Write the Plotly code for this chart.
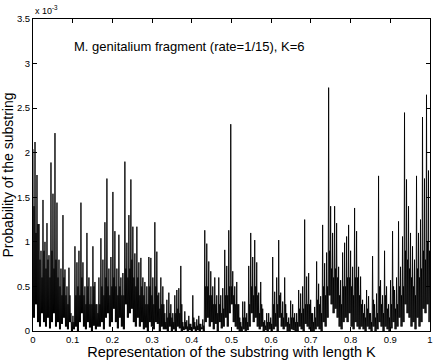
import numpy as np
import plotly.graph_objects as go

# Probability values (units of 1e-3), read per ~2px bin: local peak, local dense level, local trough
PEAKS_E3 = [
    2.04, 2.12, 1.75, 1.20, 0.90, 1.47, 1.00, 1.21, 0.85, 1.89, 1.54,
    2.22, 1.44, 0.80, 0.70, 1.30, 0.69, 0.50, 0.71, 0.20, 0.17, 0.95,
    0.77, 0.90, 1.44, 0.77, 0.50, 1.10, 0.60, 0.50, 0.95, 0.55, 0.30,
    0.60, 1.04, 0.80, 1.22, 1.71, 0.70, 0.83, 1.56, 1.12, 0.70, 1.08,
    0.60, 0.65, 1.90, 0.99, 1.30, 1.70, 1.17, 0.87, 1.17, 0.77, 0.82,
    0.60, 0.55, 0.50, 0.83, 0.82, 0.60, 1.22, 0.89, 0.43, 0.60, 0.50,
    0.20, 0.35, 0.43, 0.30, 0.20, 0.40, 0.46, 0.48, 0.73, 0.10, 0.22,
    0.12, 0.17, 0.08, 0.40, 0.10, 0.13, 0.17, 0.08, 0.13, 1.13, 0.98,
    0.78, 0.67, 0.50, 0.60, 0.40, 0.60, 0.40, 0.48, 0.91, 0.73, 1.13,
    2.32, 0.67, 0.50, 0.55, 0.30, 0.10, 0.33, 0.33, 0.20, 0.73, 1.10,
    0.83, 1.02, 0.77, 0.43, 0.55, 0.25, 0.12, 0.20, 0.20, 0.15, 0.83,
    0.44, 0.60, 1.02, 0.43, 0.33, 0.60, 0.20, 0.15, 0.34, 0.30, 0.20,
    0.20, 0.46, 0.42, 0.50, 1.25, 0.61, 0.65, 0.35, 0.20, 0.27, 0.78,
    0.53, 0.39, 1.19, 0.76, 0.88, 2.73, 1.40, 1.10, 1.40, 1.21, 0.72,
    0.57, 0.88, 0.99, 1.06, 1.19, 0.90, 0.72, 1.38, 1.12, 0.72, 0.61,
    0.35, 0.30, 0.46, 0.39, 0.20, 0.84, 0.30, 0.42, 1.74, 0.57, 0.40,
    0.90, 0.50, 0.30, 0.57, 1.12, 0.46, 0.60, 1.23, 0.72, 1.06, 2.45,
    1.70, 1.40, 1.10, 0.95, 0.80, 1.74, 1.10, 1.25, 2.40, 1.71, 2.65, 1.80,
]

MIDS_E3 = [
    1.40, 1.10, 1.20, 0.80, 0.60, 0.90, 0.70, 0.80, 0.60, 0.90, 0.70,
    0.80, 0.60, 0.50, 0.40, 0.60, 0.40, 0.30, 0.40, 0.10, 0.10, 0.40,
    0.50, 0.40, 0.60, 0.40, 0.30, 0.50, 0.30, 0.30, 0.50, 0.30, 0.20,
    0.30, 0.50, 0.40, 0.60, 0.50, 0.40, 0.50, 0.60, 0.50, 0.40, 0.50,
    0.40, 0.40, 0.70, 0.60, 0.70, 0.80, 0.60, 0.50, 0.60, 0.40, 0.50,
    0.40, 0.30, 0.30, 0.50, 0.40, 0.30, 0.50, 0.40, 0.25, 0.30, 0.30,
    0.10, 0.15, 0.20, 0.15, 0.10, 0.20, 0.25, 0.20, 0.30, 0.05, 0.10,
    0.05, 0.08, 0.04, 0.15, 0.05, 0.06, 0.08, 0.04, 0.06, 0.50, 0.50,
    0.40, 0.40, 0.30, 0.30, 0.20, 0.30, 0.20, 0.25, 0.40, 0.40, 0.50,
    0.50, 0.40, 0.30, 0.30, 0.15, 0.05, 0.15, 0.15, 0.10, 0.30, 0.50,
    0.40, 0.50, 0.40, 0.20, 0.30, 0.10, 0.06, 0.10, 0.10, 0.08, 0.30,
    0.20, 0.30, 0.40, 0.20, 0.15, 0.30, 0.10, 0.08, 0.15, 0.15, 0.10,
    0.10, 0.25, 0.20, 0.25, 0.30, 0.30, 0.30, 0.20, 0.10, 0.15, 0.35,
    0.30, 0.20, 0.50, 0.40, 0.50, 0.90, 0.70, 0.60, 0.70, 0.60, 0.40,
    0.30, 0.50, 0.50, 0.60, 0.60, 0.50, 0.40, 0.60, 0.60, 0.40, 0.30,
    0.20, 0.15, 0.25, 0.20, 0.10, 0.35, 0.15, 0.20, 0.50, 0.30, 0.20,
    0.40, 0.25, 0.15, 0.30, 0.50, 0.25, 0.30, 0.50, 0.40, 0.50, 0.90,
    0.80, 0.70, 0.60, 0.50, 0.40, 0.70, 0.60, 0.70, 0.90, 0.80, 1.00, 0.90,
]

TROUGHS_E3 = [
    0.15, 0.30, 0.10, 0.05, 0.20, 0.10, 0.05, 0.15, 0.03, 0.10, 0.20,
    0.05, 0.10, 0.02, 0.08, 0.15, 0.05, 0.02, 0.10, 0.00, 0.02, 0.05,
    0.00, 0.10, 0.20, 0.05, 0.02, 0.10, 0.04, 0.00, 0.06, 0.02, 0.05,
    0.05, 0.10, 0.02, 0.15, 0.20, 0.05, 0.10, 0.25, 0.10, 0.03, 0.15,
    0.05, 0.02, 0.30, 0.15, 0.20, 0.25, 0.10, 0.05, 0.15, 0.05, 0.10,
    0.02, 0.04, 0.00, 0.10, 0.05, 0.02, 0.10, 0.08, 0.00, 0.05, 0.02,
    0.02, 0.00, 0.05, 0.00, 0.02, 0.00, 0.05, 0.03, 0.00, 0.01, 0.02,
    0.00, 0.01, 0.00, 0.02, 0.00, 0.01, 0.00, 0.02, 0.00, 0.10, 0.15,
    0.05, 0.10, 0.02, 0.08, 0.00, 0.10, 0.03, 0.05, 0.15, 0.05, 0.20,
    0.30, 0.10, 0.05, 0.02, 0.00, 0.00, 0.02, 0.00, 0.01, 0.05, 0.20,
    0.10, 0.15, 0.05, 0.02, 0.05, 0.00, 0.01, 0.00, 0.02, 0.00, 0.02,
    0.05, 0.00, 0.15, 0.05, 0.02, 0.05, 0.00, 0.00, 0.02, 0.01, 0.00,
    0.00, 0.05, 0.02, 0.00, 0.08, 0.05, 0.02, 0.00, 0.00, 0.02, 0.05,
    0.02, 0.00, 0.10, 0.05, 0.15, 0.40, 0.30, 0.20, 0.25, 0.15, 0.05,
    0.02, 0.10, 0.15, 0.10, 0.20, 0.05, 0.02, 0.10, 0.05, 0.02, 0.05,
    0.02, 0.00, 0.05, 0.02, 0.00, 0.05, 0.00, 0.02, 0.10, 0.05, 0.00,
    0.05, 0.02, 0.00, 0.03, 0.10, 0.02, 0.05, 0.15, 0.05, 0.10, 0.30,
    0.20, 0.15, 0.05, 0.10, 0.02, 0.15, 0.05, 0.10, 0.25, 0.20, 0.30, 0.10,
]

X_TICKS = [0, 0.1, 0.2, 0.3, 0.4, 0.5, 0.6, 0.7, 0.8, 0.9, 1]
X_TICK_LABELS = ["0", "0.1", "0.2", "0.3", "0.4", "0.5", "0.6", "0.7", "0.8", "0.9", "1"]
Y_TICKS = [0, 0.5, 1, 1.5, 2, 2.5, 3, 3.5]
Y_TICK_LABELS = ["0", "0.5", "1", "1.5", "2", "2.5", "3", "3.5"]

TITLE = "M. genitalium fragment (rate=1/15), K=6"
X_TITLE = "Representation of the substring with length K"
Y_TITLE = "Probability of the substring"

y_vals = []
for p, m, t in zip(PEAKS_E3, MIDS_E3, TROUGHS_E3):
    y_vals.extend([p, t, m, t])
x_vals = np.linspace(0, 1, len(y_vals))

FONT = "Liberation Sans, Arial, Helvetica, sans-serif"

fig = go.Figure()
fig.add_trace(go.Scatter(x=x_vals, y=y_vals, mode="lines",
                         line=dict(color="black", width=0.9),
                         hoverinfo="skip", showlegend=False))

axis_common = dict(showgrid=False, zeroline=False, showline=True, linecolor="black",
                   linewidth=1, mirror="ticks", ticks="inside", ticklen=4,
                   tickcolor="black", automargin=False,
                   tickfont=dict(family=FONT, size=9.5, color="black"))

fig.update_xaxes(range=[0, 1], tickvals=X_TICKS, ticktext=X_TICK_LABELS,
                 title=dict(text=X_TITLE, font=dict(family=FONT, size=14.5, color="black"), standoff=0),
                 **axis_common)
fig.update_yaxes(range=[0, 3.5], tickvals=Y_TICKS, ticktext=Y_TICK_LABELS,
                 title=dict(text=Y_TITLE, font=dict(family=FONT, size=14, color="black"), standoff=2),
                 **axis_common)

fig.add_annotation(x=0.098, y=3.19, xref="x", yref="y", text=TITLE, showarrow=False,
                   xanchor="left", yanchor="middle",
                   font=dict(family=FONT, size=13, color="black"))
fig.add_annotation(x=0, y=1, xref="paper", yref="paper", text="x 10<sup>-3</sup>",
                   showarrow=False, xanchor="left", yanchor="bottom", yshift=1,
                   font=dict(family=FONT, size=9, color="black"))

fig.update_layout(width=436, height=360, paper_bgcolor="white", plot_bgcolor="white",
                  margin=dict(l=33, r=6, t=19, b=29), font=dict(family=FONT))

fig.write_html("out.html", config={"displayModeBar": False},
               post_script="document.body.style.margin='0';document.body.style.padding='0';")
